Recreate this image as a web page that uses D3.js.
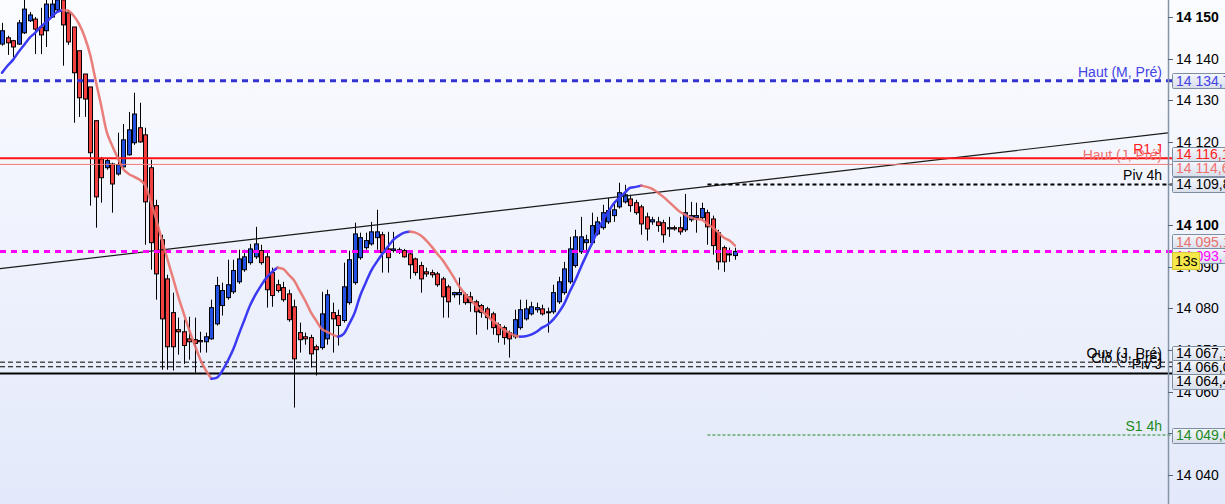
<!DOCTYPE html>
<html>
<head>
<meta charset="utf-8">
<script src="https://cdn.jsdelivr.net/npm/d3@7"></script>
<style>
  html, body { margin: 0; padding: 0; overflow: hidden; }
  svg { display: block; font-family: "Liberation Sans", Arial, sans-serif; }
</style>
</head>
<body>
<div id="chart"></div>
<script>
// ---- candles (oldest first) ----
const opens = [14143.5,14145.0,14144.3,14143.5,14146.2,14149.1,14149.5,14147.6,14146.7,14150.0,14151.7,14154.1,14151.0,14147.6,14141.9,14136.3,14133.2,14125.1,14115.9,14113.8,
  14114.7,14112.3,14114.0,14116.9,14119.8,14123.4,14121.7,14113.8,14104.7,14096.5,14087.1,14079.0,14074.9,14074.4,14072.7,14072.5,14072.3,14072.0,14072.7,14076.3,
  14080.7,14082.6,14084.0,14086.4,14089.3,14091.0,14092.4,14093.9,14092.4,14088.6,14085.7,14085.0,14083.5,14080.4,14074.2,14073.2,14073.0,14070.8,14070.6,14072.7,
  14079.0,14078.3,14077.1,14081.4,14086.2,14092.2,14094.6,14095.5,14097.0,14097.7,14094.3,14093.9,14093.6,14093.9,14093.1,14091.9,14090.3,14088.8,14088.6,14088.3,
  14087.1,14085.2,14083.3,14083.3,14083.3,14082.8,14081.6,14080.7,14079.9,14078.7,14076.1,14075.4,14074.2,14073.2,14075.4,14077.5,14078.7,14079.7,14079.9,14079.0,
  14079.2,14081.6,14083.8,14086.4,14090.3,14093.6,14095.8,14095.8,14097.9,14099.4,14100.8,14102.3,14104.4,14105.6,14106.3,14105.4,14104.4,14102.0,14100.8,14100.8,
  14100.6,14099.1,14099.4,14099.4,14098.9,14101.3,14101.8,14101.8,14103.0,14101.5,14098.2,14094.6,14092.9,14092.7];
const highs = [14148.6,14145.5,14144.5,14149.3,14154.1,14151.2,14150.0,14152.2,14154.1,14154.1,14155.3,14154.8,14151.7,14147.6,14141.9,14136.3,14133.2,14125.1,14116.4,14115.9,
  14115.0,14122.2,14124.3,14127.2,14131.8,14129.4,14123.4,14115.7,14106.1,14097.7,14088.1,14083.8,14077.8,14077.3,14078.0,14077.8,14074.4,14074.2,14082.1,14087.6,
  14086.2,14091.7,14091.7,14094.1,14094.1,14095.5,14099.6,14095.3,14093.6,14089.8,14086.9,14086.4,14084.5,14082.1,14076.6,14074.2,14073.7,14071.3,14084.0,14084.5,
  14081.4,14079.7,14091.0,14093.9,14100.6,14098.2,14098.2,14100.8,14103.7,14098.4,14098.4,14098.4,14094.6,14094.3,14093.6,14092.2,14091.2,14089.8,14089.3,14088.8,
  14087.6,14085.7,14084.0,14087.4,14083.8,14084.0,14082.1,14081.1,14080.4,14079.2,14076.6,14075.9,14074.7,14079.7,14082.1,14082.1,14081.6,14081.4,14080.9,14080.2,
  14085.7,14087.6,14091.2,14097.2,14098.9,14102.0,14097.7,14103.0,14102.0,14104.9,14106.6,14105.4,14110.2,14109.7,14107.3,14106.1,14104.9,14103.0,14102.0,14102.0,
  14101.3,14102.0,14099.9,14102.0,14107.5,14105.6,14105.4,14105.4,14103.7,14102.3,14098.9,14095.1,14094.6,14094.6];
const lows = [14143.1,14140.9,14140.4,14143.3,14145.9,14148.8,14141.1,14141.1,14142.8,14149.8,14151.2,14138.3,14143.3,14124.6,14126.0,14126.0,14104.7,14099.4,14105.4,14113.3,
  14103.0,14111.9,14113.8,14116.7,14119.3,14119.8,14095.3,14089.3,14082.1,14065.3,14065.3,14065.1,14068.9,14066.7,14067.7,14064.6,14069.4,14069.4,14072.5,14075.9,
  14078.3,14082.1,14083.5,14085.9,14088.8,14090.5,14091.9,14090.5,14080.2,14080.4,14083.8,14081.6,14076.8,14056.2,14069.4,14071.3,14065.8,14063.9,14070.1,14071.3,
  14069.4,14071.1,14076.6,14080.9,14085.7,14091.7,14094.1,14095.1,14094.1,14088.6,14088.6,14093.4,14093.1,14092.2,14087.1,14087.9,14083.8,14087.6,14087.4,14085.2,
  14077.8,14077.8,14082.6,14080.9,14080.9,14079.2,14073.7,14077.8,14074.9,14073.7,14071.8,14071.3,14068.2,14072.7,14074.9,14077.1,14078.3,14079.0,14078.3,14074.2,
  14078.7,14081.1,14083.3,14085.9,14089.8,14093.1,14092.9,14095.3,14097.5,14098.9,14100.3,14100.8,14104.0,14105.2,14103.2,14102.5,14097.7,14096.3,14100.1,14098.4,
  14095.8,14097.2,14098.7,14097.7,14098.4,14100.8,14098.2,14101.3,14095.3,14092.9,14089.3,14088.8,14091.2,14091.7];
const closes = [14146.7,14143.8,14142.8,14148.6,14151.9,14150.5,14147.1,14145.7,14153.1,14153.1,14154.1,14148.1,14144.0,14136.6,14130.6,14130.3,14117.4,14106.8,14111.4,14115.5,
  14109.9,14114.5,14120.5,14122.9,14126.7,14120.0,14105.6,14095.8,14088.3,14077.5,14070.8,14070.8,14074.4,14071.1,14072.0,14071.6,14072.0,14073.2,14080.2,14085.5,
  14084.3,14085.7,14089.1,14091.9,14092.4,14094.3,14095.5,14091.0,14084.5,14083.1,14084.3,14082.1,14077.3,14067.9,14072.5,14072.7,14069.1,14070.1,14078.7,14083.3,
  14077.5,14075.9,14085.2,14091.7,14097.9,14097.0,14096.3,14098.4,14098.4,14093.4,14092.2,14094.3,14094.1,14092.4,14090.5,14088.6,14087.1,14088.3,14088.1,14085.7,
  14082.8,14081.6,14083.8,14083.8,14081.4,14081.4,14079.2,14079.0,14077.8,14075.4,14073.7,14073.0,14072.7,14077.3,14079.7,14079.9,14080.4,14080.2,14078.7,14079.2,
  14083.8,14086.4,14089.5,14094.3,14097.2,14097.2,14096.5,14099.9,14100.8,14103.0,14103.5,14103.7,14107.8,14107.3,14104.7,14103.0,14100.3,14099.1,14101.3,14099.9,
  14097.7,14099.4,14099.1,14098.4,14103.0,14102.3,14102.3,14104.0,14099.6,14095.1,14091.2,14091.2,14093.1,14093.7];

// moving average, one value per candle
const maValues = [14136.6,14138.3,14139.7,14141.6,14143.3,14145.0,14146.2,14147.6,14148.8,14150.0,14151.2,14151.7,14151.5,14150.3,14148.3,14145.2,14140.9,14134.7,14128.7,14122.4,
  14119.1,14116.2,14113.5,14112.3,14111.6,14110.9,14109.5,14105.6,14101.3,14096.5,14091.9,14087.4,14082.8,14078.7,14074.7,14071.1,14067.7,14065.1,14063.1,14063.4,
  14065.1,14067.5,14070.3,14073.9,14077.3,14080.7,14083.3,14085.5,14087.4,14088.8,14089.8,14089.5,14088.1,14086.7,14084.3,14081.9,14079.2,14077.1,14075.1,14074.4,
  14073.7,14073.2,14073.9,14076.3,14079.0,14083.1,14086.2,14089.1,14091.2,14093.1,14094.8,14096.5,14097.5,14098.2,14098.4,14098.2,14097.5,14096.3,14094.8,14093.1,
  14091.5,14089.5,14087.4,14085.2,14083.5,14082.1,14080.7,14079.5,14078.3,14077.1,14076.1,14074.9,14074.2,14073.5,14073.2,14073.3,14073.7,14074.4,14075.4,14076.1,
  14077.3,14079.0,14081.1,14084.0,14086.7,14089.8,14092.7,14095.5,14098.4,14101.1,14103.2,14105.2,14106.6,14107.8,14109.0,14109.2,14109.5,14109.2,14108.7,14107.8,
  14106.8,14105.6,14104.4,14103.2,14102.5,14101.8,14101.5,14101.3,14100.3,14099.4,14098.2,14097.0,14096.3,14095.1];

// ---- horizontal levels ----
const levelNames  = ["Haut (M, Pré)", "R1 J", "Haut (J, Pré)", "Piv 4h", "Ouv (J, Pré)", "Clô (J, Pré)", "Piv J", "S1 4h"];
const levelValues = [14134.7, 14116.1, 14114.6, 14109.8, 14067.1, 14066.0, 14064.4, 14049.6];
const levelStart  = [0, 0, 0, 128, 0, 0, 0, 128];   // candle where the level begins

const lastPrice = 14093.7;
const countdown = "13s";
const trendPoints = [[0, 14089.6], [200, 14120.4]];  // [candle, price]
const yTickValues = [14040, 14050, 14060, 14070, 14080, 14090, 14100, 14110, 14120, 14130, 14140, 14150];

// ---- styles ----
const levelStyle = {
  "Haut (M, Pré)": { color: "#3232d2", text: "#4343e6", width: 3, dash: "6,5" },
  "R1 J":          { color: "#ff1212", text: "#ff1a1a", width: 2, dash: null },
  "Haut (J, Pré)": { color: "#f27878", text: "#f27070", width: 1, dash: null },
  "Piv 4h":        { color: "#000000", text: "#000000", width: 2, dash: "4,3" },
  "Ouv (J, Pré)":  { color: "#000000", text: "#000000", width: 1, dash: "5,3" },
  "Clô (J, Pré)":  { color: "#000000", text: "#000000", width: 1, dash: "5,3" },
  "Piv J":         { color: "#000000", text: "#000000", width: 2, dash: null },
  "S1 4h":         { color: "#1d8a1d", text: "#1d8a1d", width: 1, dash: "3,2" }
};
const lastStyle = { color: "#ff00ff", width: 3, dash: "6,5" };
const maUp = "#3a3af4", maDown = "#e8706c";
const upFill = "#2450e0", downFill = "#f24040";

// ---------- setup ----------
const width = 1225, height = 504;
const axisX = 1168;

const fr = d3.formatLocale({ decimal: ",", thousands: " ", grouping: [3], currency: ["", ""] });
const tickFmt = fr.format(",.0f");
const boxFmt = fr.format(",.1f");

const x = d3.scaleLinear().domain([0, 133]).range([2, 735]);
const y = d3.scaleLinear().domain([14040, 14150]).range([475, 17]);

const svg = d3.select("#chart").append("svg")
  .attr("width", width)
  .attr("height", height);

const defs = svg.append("defs");
const bg = defs.append("linearGradient").attr("id", "bg").attr("x1", 0).attr("y1", 0).attr("x2", 0).attr("y2", 1);
bg.append("stop").attr("offset", "0%").attr("stop-color", "#fbfcff");
bg.append("stop").attr("offset", "100%").attr("stop-color", "#e3e9fa");
const boxGrad = defs.append("linearGradient").attr("id", "boxg").attr("x1", 0).attr("y1", 0).attr("x2", 0).attr("y2", 1);
boxGrad.append("stop").attr("offset", "0%").attr("stop-color", "#f5f7fc");
boxGrad.append("stop").attr("offset", "100%").attr("stop-color", "#d7deeb");

svg.append("rect").attr("width", width).attr("height", height).attr("fill", "url(#bg)");

const plot = svg.append("g");

// ---- candles ----
const candles = opens.map((o, i) => ({ i, o, h: highs[i], l: lows[i], c: closes[i] }));

plot.selectAll("line.wick")
  .data(candles)
  .enter().append("line")
  .attr("class", "wick")
  .attr("x1", d => Math.round(x(d.i)) + 0.5)
  .attr("x2", d => Math.round(x(d.i)) + 0.5)
  .attr("y1", d => y(d.h))
  .attr("y2", d => y(d.l))
  .attr("stroke", "#000")
  .attr("stroke-width", 1);

plot.selectAll("rect.body")
  .data(candles)
  .enter().append("rect")
  .attr("class", "body")
  .attr("x", d => Math.round(x(d.i)) - 1.5)
  .attr("width", 4)
  .attr("y", d => y(Math.max(d.o, d.c)))
  .attr("height", d => Math.max(1, Math.abs(y(d.o) - y(d.c))))
  .attr("fill", d => d.c >= d.o ? upFill : downFill)
  .attr("stroke", "#000")
  .attr("stroke-width", 1);

// ---- trend line ----
const trendAt = idx => {
  const [a, b] = trendPoints;
  return a[1] + (b[1] - a[1]) * (idx - a[0]) / (b[0] - a[0]);
};
const tStart = x.invert(0), tEnd = x.invert(axisX);
plot.append("line")
  .attr("x1", 0).attr("y1", y(trendAt(tStart)))
  .attr("x2", axisX).attr("y2", y(trendAt(tEnd)))
  .attr("stroke", "#1a1a1a")
  .attr("stroke-width", 1.2);

// ---- level lines ----
const levels = levelNames.map((name, k) => ({ name, value: levelValues[k], start: levelStart[k], style: levelStyle[name] }));

plot.selectAll("line.level")
  .data(levels)
  .enter().append("line")
  .attr("class", "level")
  .attr("x1", d => d.start === 0 ? 0 : x(d.start))
  .attr("x2", axisX + 5)
  .attr("y1", d => y(d.value))
  .attr("y2", d => y(d.value))
  .attr("stroke", d => d.style.color)
  .attr("stroke-width", d => d.style.width)
  .attr("stroke-dasharray", d => d.style.dash);

plot.append("line")
  .attr("x1", 0).attr("x2", axisX + 5)
  .attr("y1", y(lastPrice)).attr("y2", y(lastPrice))
  .attr("stroke", lastStyle.color)
  .attr("stroke-width", lastStyle.width)
  .attr("stroke-dasharray", lastStyle.dash);

// ---- moving average, blue while rising, salmon while falling ----
const runs = [];
for (let i = 0; i < maValues.length - 1; i++) {
  const up = maValues[i + 1] >= maValues[i];
  const last = runs[runs.length - 1];
  if (last && last.up === up) last.pts.push(i + 1);
  else runs.push({ up, pts: [i, i + 1] });
}
const maLine = d3.line()
  .x(i => x(i))
  .y(i => y(maValues[i]))
  .curve(d3.curveMonotoneX);

plot.selectAll("path.ma")
  .data(runs)
  .enter().append("path")
  .attr("class", "ma")
  .attr("d", d => maLine(d.pts))
  .attr("fill", "none")
  .attr("stroke", d => d.up ? maUp : maDown)
  .attr("stroke-opacity", d => d.up ? 1 : 0.9)
  .attr("stroke-width", 2.5)
  .attr("stroke-linecap", "round");

// ---- level labels ----
plot.selectAll("text.lvl")
  .data(levels)
  .enter().append("text")
  .attr("class", "lvl")
  .attr("x", axisX - 6)
  .attr("y", d => y(d.value) - 4)
  .attr("text-anchor", "end")
  .style("font-size", "14px")
  .attr("fill", d => d.style.text)
  .text(d => d.name);

// ---- price axis ----
svg.append("line")
  .attr("x1", axisX + 0.5).attr("x2", axisX + 0.5)
  .attr("y1", 0).attr("y2", height)
  .attr("stroke", "#8595a8")
  .attr("stroke-width", 1.5);

const ticks = svg.append("g");
ticks.selectAll("line")
  .data(yTickValues)
  .enter().append("line")
  .attr("x1", axisX).attr("x2", axisX + 5)
  .attr("y1", d => Math.round(y(d)) + 0.5)
  .attr("y2", d => Math.round(y(d)) + 0.5)
  .attr("stroke", "#55657a");
ticks.selectAll("text")
  .data(yTickValues)
  .enter().append("text")
  .attr("x", axisX + 8)
  .attr("y", d => y(d))
  .attr("dy", "0.36em")
  .style("font-size", "14px")
  .style("font-weight", d => d % 50 === 0 ? "bold" : "normal")
  .attr("fill", "#000")
  .text(d => tickFmt(d));

// ---- price boxes, pushed apart where they collide ----
const boxes = levels.map(d => ({ value: d.value, color: d.style.text }));
boxes.push({ value: maValues[maValues.length - 1], color: maDown });
boxes.push({ value: lastPrice, color: lastStyle.color, last: true });
boxes.forEach(b => { b.y0 = y(b.value); b.cy = b.y0; });
boxes.sort((a, b) => a.y0 - b.y0);

const boxH = 15, step = 14;
for (let pass = 0; pass < 20; pass++) {
  let moved = false;
  let k = 0;
  while (k < boxes.length) {
    let j = k;
    while (j + 1 < boxes.length && boxes[j + 1].cy - boxes[j].cy < step - 0.01) j++;
    if (j > k) {
      const group = boxes.slice(k, j + 1);
      const mean = d3.mean(group, b => b.y0);
      group.forEach((b, n) => { b.cy = mean - (group.length - 1) * step / 2 + n * step; });
      moved = true;
    }
    k = j + 1;
  }
  if (!moved) break;
}

const boxG = svg.append("g");
boxes.forEach(b => {
  boxG.append("rect")
    .attr("x", axisX + 4.5)
    .attr("y", Math.round(b.cy - boxH / 2) + 0.5)
    .attr("width", 70)
    .attr("height", boxH)
    .attr("rx", 1)
    .attr("fill", "url(#boxg)")
    .attr("stroke", "#7d8da2");
  boxG.append("text")
    .attr("x", axisX + 8)
    .attr("y", b.cy)
    .attr("dy", "0.36em")
    .style("font-size", "14px")
    .attr("fill", b.color)
    .text(boxFmt(b.value));
});

// countdown badge under the last price box
const cdTop = y(lastPrice) + 1;
boxG.append("rect")
  .attr("x", axisX + 4.5)
  .attr("y", Math.round(cdTop) + 0.5)
  .attr("width", 27)
  .attr("height", 17)
  .attr("fill", "#f6e84a")
  .attr("stroke", "#d8c838");
boxG.append("text")
  .attr("x", axisX + 7)
  .attr("y", cdTop + 8.5)
  .attr("dy", "0.36em")
  .style("font-size", "14px")
  .attr("fill", "#000")
  .text(countdown);
</script>
</body>
</html>
